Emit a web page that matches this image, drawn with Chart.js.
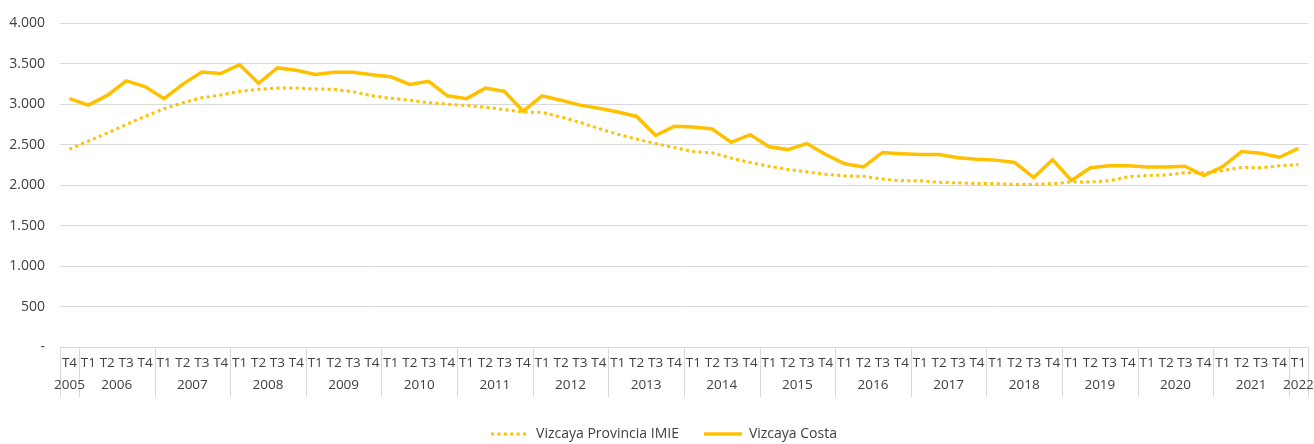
<!DOCTYPE html>
<html>
<head>
<meta charset="utf-8">
<script src="https://cdn.jsdelivr.net/npm/chart.js@4.4.1/dist/chart.umd.min.js"></script>
<style>
  html, body { margin: 0; padding: 0; background: #ffffff; }
  #wrap { width: 1314px; height: 444px; }
</style>
</head>
<body>
<div id="wrap"><canvas id="grafico"></canvas></div>
<script>
// Trimestres (eje X) y años que los agrupan
const trimestres = [
    'T4',
    'T1', 'T2', 'T3', 'T4',  // 2006
    'T1', 'T2', 'T3', 'T4',  // 2007
    'T1', 'T2', 'T3', 'T4',  // 2008
    'T1', 'T2', 'T3', 'T4',  // 2009
    'T1', 'T2', 'T3', 'T4',  // 2010
    'T1', 'T2', 'T3', 'T4',  // 2011
    'T1', 'T2', 'T3', 'T4',  // 2012
    'T1', 'T2', 'T3', 'T4',  // 2013
    'T1', 'T2', 'T3', 'T4',  // 2014
    'T1', 'T2', 'T3', 'T4',  // 2015
    'T1', 'T2', 'T3', 'T4',  // 2016
    'T1', 'T2', 'T3', 'T4',  // 2017
    'T1', 'T2', 'T3', 'T4',  // 2018
    'T1', 'T2', 'T3', 'T4',  // 2019
    'T1', 'T2', 'T3', 'T4',  // 2020
    'T1', 'T2', 'T3', 'T4',  // 2021
    'T1'
];
const anios = ['2005', '2006', '2007', '2008', '2009', '2010', '2011', '2012', '2013',
    '2014', '2015', '2016', '2017', '2018', '2019', '2020', '2021', '2022'];

// Precio medio (€/m2)
const provinciaIMIE = [
    2445,
    2545, 2645, 2750, 2850,
    2945, 3020, 3080, 3115,
    3160, 3185, 3200, 3200,
    3190, 3185, 3155, 3105,
    3075, 3050, 3020, 3000,
    2985, 2965, 2935, 2905,
    2900, 2845, 2775, 2700,
    2630, 2570, 2515, 2465,
    2415, 2400, 2335, 2280,
    2235, 2195, 2165, 2135,
    2115, 2110, 2075, 2055,
    2055, 2035, 2030, 2020,
    2020, 2010, 2010, 2020,
    2040, 2040, 2055, 2105,
    2120, 2125, 2155, 2150,
    2180, 2220, 2215, 2240,
    2255
];
const costa = [
    3070,
    2990, 3110, 3290, 3220,
    3070, 3250, 3400, 3380,
    3490, 3260, 3450, 3420,
    3370, 3395, 3395, 3365,
    3340, 3245, 3285, 3105,
    3070, 3200, 3160, 2915,
    3105, 3050, 2990, 2950,
    2905, 2850, 2615, 2730,
    2720, 2695, 2530, 2625,
    2475, 2440, 2515, 2380,
    2265, 2225, 2405, 2390,
    2380, 2380, 2340, 2320,
    2310, 2280, 2095, 2315,
    2060, 2215, 2240, 2240,
    2225, 2225, 2235, 2120,
    2230, 2415, 2395, 2345,
    2455
];

const AMARILLO = '#FFC000';
const TEXTO = '#404040';
const REJILLA = '#d9d9d9';
const FUENTE = "'Open Sans', sans-serif";

function formatoMiles(v) {
    if (v === 0) return '-';
    return String(v).replace(/\B(?=(\d{3})+(?!\d))/g, '.');
}

// Separadores verticales y etiquetas de año bajo los trimestres
const ejeAnios = {
    id: 'ejeAnios',
    afterLayout(chart) {
        // desplaza un poco la leyenda hacia la derecha
        chart.legend.left += 10;
        chart.legend.right += 10;
    },
    afterDraw(chart) {
        const x = chart.scales.x;
        const area = chart.chartArea;
        const ctx = chart.ctx;
        const mitad = (x.getPixelForTick(1) - x.getPixelForTick(0)) / 2;

        // índices donde empieza cada año
        const inicios = [0];
        trimestres.forEach((t, i) => { if (i > 0 && t === 'T1') inicios.push(i); });

        ctx.save();
        ctx.strokeStyle = REJILLA;
        ctx.lineWidth = 1;
        const bordes = inicios.map(i => x.getPixelForTick(i) - mitad);
        bordes.push(x.getPixelForTick(trimestres.length - 1) + mitad);
        bordes.forEach(px => {
            const xx = Math.round(px) + 0.5;
            ctx.beginPath();
            ctx.moveTo(xx, area.bottom);
            ctx.lineTo(xx, area.bottom + 50);
            ctx.stroke();
        });

        ctx.fillStyle = TEXTO;
        ctx.font = '13.5px ' + FUENTE;
        ctx.textAlign = 'center';
        ctx.textBaseline = 'middle';
        anios.forEach((a, k) => {
            ctx.fillText(a, (bordes[k] + bordes[k + 1]) / 2, area.bottom + 38);
        });
        ctx.restore();
    }
};

new Chart(document.getElementById('grafico'), {
    type: 'line',
    data: {
        labels: trimestres,
        datasets: [
            {
                label: 'Vizcaya Provincia IMIE',
                data: provinciaIMIE,
                borderColor: AMARILLO,
                backgroundColor: AMARILLO,
                borderWidth: 3,
                borderDash: [3, 3.4],
                pointRadius: 0,
                tension: 0
            },
            {
                label: 'Vizcaya Costa',
                data: costa,
                borderColor: AMARILLO,
                backgroundColor: AMARILLO,
                borderWidth: 3.5,
                pointRadius: 0,
                tension: 0
            }
        ]
    },
    options: {
        responsive: true,
        maintainAspectRatio: false,
        animation: false,
        layout: { padding: { top: 16, right: 6, left: 0, bottom: 0 } },
        plugins: {
            tooltip: { enabled: false },
            legend: {
                position: 'bottom',
                maxHeight: 42,
                labels: {
                    usePointStyle: true,
                    pointStyle: 'line',
                    pointStyleWidth: 38,
                    padding: 25,
                    color: TEXTO,
                    font: { family: FUENTE, size: 14 },
                    // la muestra de la leyenda usa el trazo de la propia serie
                    generateLabels(chart) {
                        const items = Chart.defaults.plugins.legend.labels.generateLabels(chart);
                        items.forEach(item => {
                            const ds = chart.data.datasets[item.datasetIndex];
                            item.lineDash = ds.borderDash || [];
                            item.lineWidth = ds.borderWidth;
                            item.strokeStyle = ds.borderColor;
                            item.fontColor = TEXTO;
                        });
                        return items;
                    }
                }
            }
        },
        scales: {
            x: {
                offset: true,
                grid: { display: false, drawTicks: false },
                border: { display: false },
                ticks: {
                    autoSkip: false,
                    maxRotation: 0,
                    minRotation: 0,
                    padding: 8,
                    color: TEXTO,
                    font: { family: FUENTE, size: 13.5 }
                },
                afterFit(scale) { scale.height = 55; }
            },
            y: {
                min: 0,
                max: 4000,
                grid: { color: REJILLA, drawTicks: false },
                border: { display: false },
                ticks: {
                    stepSize: 500,
                    padding: 15,
                    color: TEXTO,
                    font: { family: FUENTE, size: 14 },
                    callback: v => formatoMiles(v)
                },
                afterFit(scale) { scale.width = 60; }
            }
        }
    },
    plugins: [ejeAnios]
});
</script>
</body>
</html>
